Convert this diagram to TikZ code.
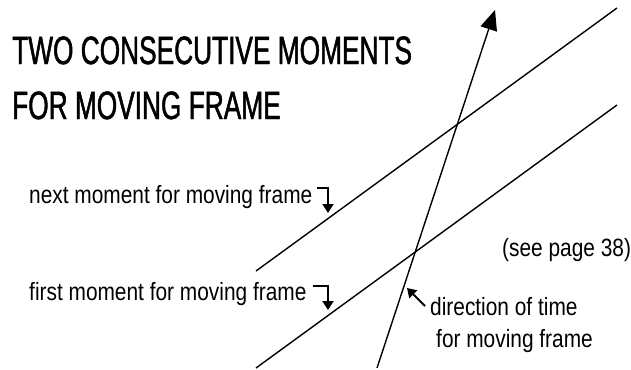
\documentclass[tikz,border=0pt]{standalone}
\usepackage{fontspec}
\setmainfont{Liberation Sans}
\newfontfamily\titlefont[FakeStretch=0.665,FakeBold=1.2]{Liberation Sans}
\newfontfamily\labelfont[FakeStretch=0.835]{Liberation Sans}
\usetikzlibrary{arrows.meta}
\begin{document}
\begin{tikzpicture}[x=1pt,y=-1pt,
  line/.style={line width=1.4pt},
  hook/.style={line width=2pt,-{Triangle[length=9pt,width=11pt]}},
  title/.style={anchor=base west,inner sep=0pt,font=\titlefont\fontsize{39.5}{42}\selectfont},
  label/.style={anchor=base west,inner sep=0pt,font=\labelfont\fontsize{25}{27}\selectfont}]
\useasboundingbox (0,0) rectangle (631,369);
\node[title] (t1) at (12,64) {TWO CONSECUTIVE MOMENTS};
\node[title] (t2) at (12,119) {FOR MOVING FRAME};
\coordinate (u1) at (256,271);
\coordinate (u2) at (617,8);
\coordinate (l1) at (256,368);
\coordinate (l2) at (617,105);
\coordinate (a1) at (377,368);
\coordinate (a2) at (495,10);
\draw[line] (u1) -- (u2);
\draw[line] (l1) -- (l2);
\draw[line,-{Triangle[length=20pt,width=17pt]}] (a1) -- (a2);
\node[label] (n1) at (29,203) {next moment for moving frame};
\node[label] (n2) at (29,300) {first moment for moving frame};
\coordinate (h1a) at (317,188);
\coordinate (h1b) at (328,188);
\coordinate (h1c) at (328,213);
\coordinate (h2a) at (313,286);
\coordinate (h2b) at (328,286);
\coordinate (h2c) at (328,310);
\draw[hook] (h1a) -- (h1b) -- (h1c);
\draw[hook] (h2a) -- (h2b) -- (h2c);
\node[label] (see) at (502,256) {(see page 38)};
\node[label] (d1) at (430,315) {direction of time};
\node[label] (d2) at (436,347) {for moving frame};
\coordinate (s1) at (425,306);
\coordinate (s2) at (407,288);
\draw[hook] (s1) -- (s2);
\end{tikzpicture}
\end{document}
